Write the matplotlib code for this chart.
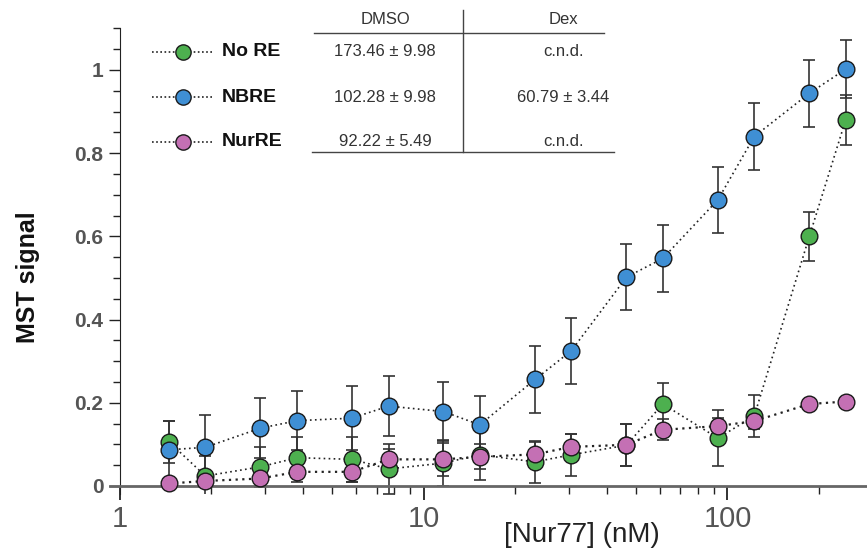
import matplotlib
matplotlib.use('Agg')
import matplotlib.pyplot as plt
from matplotlib.lines import Line2D
from matplotlib.ticker import FixedLocator, NullFormatter

plt.rcParams['font.family'] = ['Liberation Sans', 'DejaVu Sans']

# concentrations (nM)
conc = [1.45, 1.91, 2.9, 3.83, 5.8, 7.66, 11.6, 15.3, 23.25, 30.6,
        46.5, 61.25, 93, 122.5, 186, 245]

no_re = [0.106, 0.024, 0.046, 0.068, 0.064, 0.041, 0.055, 0.075, 0.058, 0.075,
         0.098, 0.197, 0.115, 0.168, 0.600, 0.880]
no_re_err = [0.05, 0.048, 0.048, 0.049, 0.054, 0.06, 0.055, 0.06, 0.05, 0.05,
             0.05, 0.05, 0.067, 0.05, 0.058, 0.06]

nbre = [0.087, 0.093, 0.139, 0.157, 0.163, 0.192, 0.179, 0.147, 0.256, 0.325,
        0.502, 0.547, 0.688, 0.840, 0.944, 1.002]
nbre_err = [0.07, 0.077, 0.072, 0.071, 0.077, 0.072, 0.072, 0.07, 0.08, 0.08,
            0.08, 0.08, 0.08, 0.08, 0.08, 0.07]

nurre = [0.006, 0.012, 0.018, 0.034, 0.034, 0.064, 0.064, 0.07, 0.076, 0.094,
         0.099, 0.135, 0.144, 0.156, 0.197, 0.203]
nurre_err = [0.0, 0.0, 0.0, 0.025, 0.025, 0.025, 0.04, 0.03, 0.03, 0.03,
             0.05, 0.025, 0.02, 0.02, 0.012, 0.01]

series_names = ['No RE', 'NBRE', 'NurRE']
series_colors = ['#4db04f', '#3f8fd4', '#c470b4']

table_header = ['DMSO', 'Dex']
dmso_vals = ['173.46 ± 9.98', '102.28 ± 9.98', '92.22 ± 5.49']
dex_vals = ['c.n.d.', '60.79 ± 3.44', 'c.n.d.']

W, H = 867, 553


def fx(px):
    return px / W


def fy(py):
    return 1 - py / H


fig = plt.figure(figsize=(8.67, 5.53), dpi=100)
ax = fig.add_axes([fx(110), fy(494.3), fx(867) - fx(110), fy(28.4) - fy(494.3)])

data = [(no_re, no_re_err), (nbre, nbre_err), (nurre, nurre_err)]
for i, (ys, errs) in enumerate(data):
    lw = 1.6 if i == 2 else 1.2
    ax.plot(conc, ys, linestyle=(0, (1, 2)), color='#222222', lw=lw, zorder=2 + i)
    ax.errorbar(conc, ys, yerr=errs, fmt='none', ecolor='#333333',
                elinewidth=1.2, capsize=4, capthick=1.2, zorder=2 + i)
    ax.plot(conc, ys, 'o', ms=12, mfc=series_colors[i], mec='#1a1a1a',
            mew=1.0, zorder=5 + i)

ax.set_xscale('log')
ax.set_xlim(0.927, 288)
ax.set_ylim(-0.02, 1.1)

ax.spines['top'].set_visible(False)
ax.spines['right'].set_visible(False)
ax.spines['left'].set_position(('data', 1))
ax.spines['bottom'].set_position(('data', 0))
ax.spines['left'].set_color('#222222')
ax.spines['bottom'].set_color('#666666')
ax.spines['bottom'].set_linewidth(2)

ax.yaxis.set_major_locator(FixedLocator([0, 0.2, 0.4, 0.6, 0.8, 1.0]))
ax.yaxis.set_minor_locator(FixedLocator([i * 0.05 for i in range(23)]))
ax.set_yticklabels(['0', '0.2', '0.4', '0.6', '0.8', '1'])
ax.tick_params(axis='y', which='major', length=8, width=1, color='#222222',
               labelsize=15, labelcolor='#555555', pad=4)
ax.tick_params(axis='y', which='minor', length=5, width=1, color='#222222')
for lab in ax.get_yticklabels():
    lab.set_fontweight('bold')

ax.set_xticks([1, 10, 100])
ax.set_xticklabels(['1', '10', '100'])
ax.xaxis.set_minor_formatter(NullFormatter())
ax.tick_params(axis='x', which='major', length=10, width=1.3, color='#222222',
               labelsize=21, labelcolor='#555555', pad=4)
ax.tick_params(axis='x', which='minor', length=6, width=1, color='#222222')

fig.text(fx(28), fy(277), 'MST signal', rotation=90, ha='center', va='center',
         fontsize=18, fontweight='bold', color='#111111')
fig.text(fx(582), fy(535), '[Nur77] (nM)', ha='center', va='center',
         fontsize=20, color='#222222')

# legend + table
rows_y = [52, 97, 142]
for i, name in enumerate(series_names):
    y = rows_y[i]
    fig.add_artist(Line2D([fx(152), fx(212)], [fy(y), fy(y)], transform=fig.transFigure,
                          linestyle=(0, (1, 1.5)), color='#222222', lw=1.2))
    fig.add_artist(Line2D([fx(183)], [fy(y)], transform=fig.transFigure, marker='o',
                          ms=11, mfc=series_colors[i], mec='#1a1a1a', mew=1.0))
    fig.text(fx(222), fy(y), name, ha='left', va='center', fontsize=14,
             fontweight='bold', color='#111111')
    fig.text(fx(385), fy(y), dmso_vals[i], ha='center', va='center',
             fontsize=12, color='#333333')
    fig.text(fx(563), fy(y), dex_vals[i], ha='center', va='center',
             fontsize=12, color='#333333')

fig.text(fx(386), fy(20), table_header[0], ha='center', va='center',
         fontsize=12, color='#333333')
fig.text(fx(563), fy(20), table_header[1], ha='center', va='center',
         fontsize=12, color='#333333')
fig.add_artist(Line2D([fx(314), fx(604)], [fy(33), fy(33)], transform=fig.transFigure,
                      color='#444444', lw=1.0))
fig.add_artist(Line2D([fx(312), fx(614)], [fy(152), fy(152)], transform=fig.transFigure,
                      color='#444444', lw=1.0))
fig.add_artist(Line2D([fx(463), fx(463)], [fy(10), fy(152)], transform=fig.transFigure,
                      color='#444444', lw=1.0))

fig.savefig('out.png', dpi=100)
